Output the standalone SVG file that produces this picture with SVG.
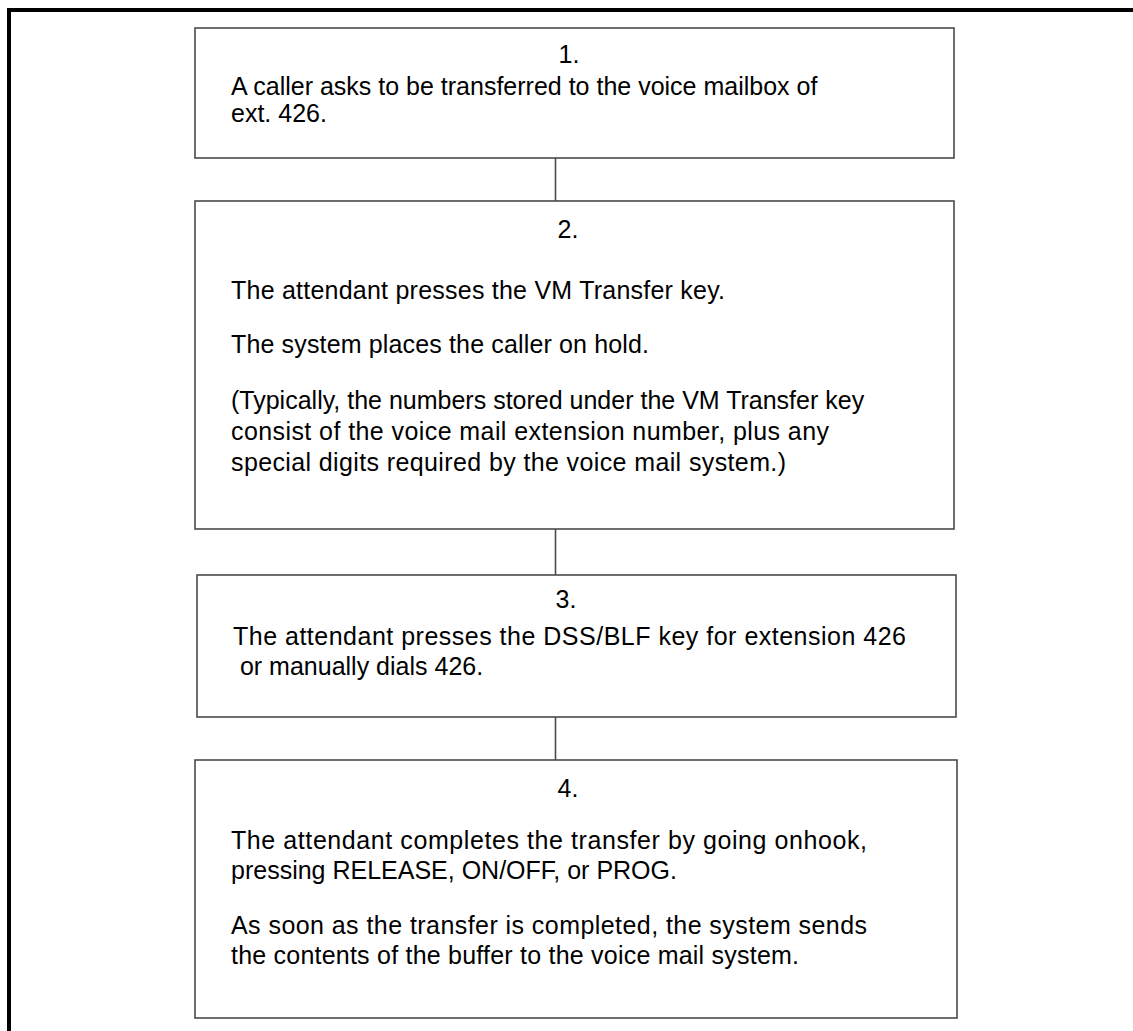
<svg xmlns="http://www.w3.org/2000/svg" width="1133" height="1031" viewBox="0 0 1133 1031">
<style>
.box{fill:#fff;stroke:#4a4a4a;stroke-width:1.6}
.t{font-family:"Liberation Sans",Arial,sans-serif;font-size:25px;fill:#000}
.n{text-anchor:middle}
.c{stroke:#4a4a4a;stroke-width:1.6;fill:none}
</style>
<rect width="1133" height="1031" fill="#fff"/>
<path d="M9 1031 V10 H1133" fill="none" stroke="#000" stroke-width="4"/>
<g id="connectors">
<line class="c" x1="555.5" y1="158" x2="555.5" y2="201"/>
<line class="c" x1="555.5" y1="529" x2="555.5" y2="575"/>
<line class="c" x1="555.5" y1="717" x2="555.5" y2="760"/>
</g>
<g id="step1">
<rect class="box" x="195" y="28" width="759" height="130"/>
<text class="t n" x="569" y="63">1.</text>
<text class="t" x="231" y="95">A caller asks to be transferred to the voice mailbox of</text>
<text class="t" x="231" y="122">ext. 426.</text>
</g>
<g id="step2">
<rect class="box" x="195" y="201" width="759" height="328"/>
<text class="t n" x="568" y="238">2.</text>
<text class="t" x="231" y="299" textLength="494">The attendant presses the VM Transfer key.</text>
<text class="t" x="231" y="353" textLength="418">The system places the caller on hold.</text>
<text class="t" x="231" y="409">(Typically, the numbers stored under the VM Transfer key</text>
<text class="t" x="231" y="440" textLength="598">consist of the voice mail extension number, plus any</text>
<text class="t" x="231" y="471" textLength="555">special digits required by the voice mail system.)</text>
</g>
<g id="step3">
<rect class="box" x="197" y="575" width="759" height="142"/>
<text class="t n" x="566" y="608">3.</text>
<text class="t" x="233" y="645" textLength="673">The attendant presses the DSS/BLF key for extension 426</text>
<text class="t" x="233" y="675" xml:space="preserve"> or manually dials 426.</text>
</g>
<g id="step4">
<rect class="box" x="195" y="760" width="762" height="258"/>
<text class="t n" x="568" y="797">4.</text>
<text class="t" x="231" y="849" textLength="636">The attendant completes the transfer by going onhook,</text>
<text class="t" x="231" y="879">pressing RELEASE, ON/OFF, or PROG.</text>
<text class="t" x="231" y="934" textLength="636">As soon as the transfer is completed, the system sends</text>
<text class="t" x="231" y="964" textLength="568">the contents of the buffer to the voice mail system.</text>
</g>
</svg>
